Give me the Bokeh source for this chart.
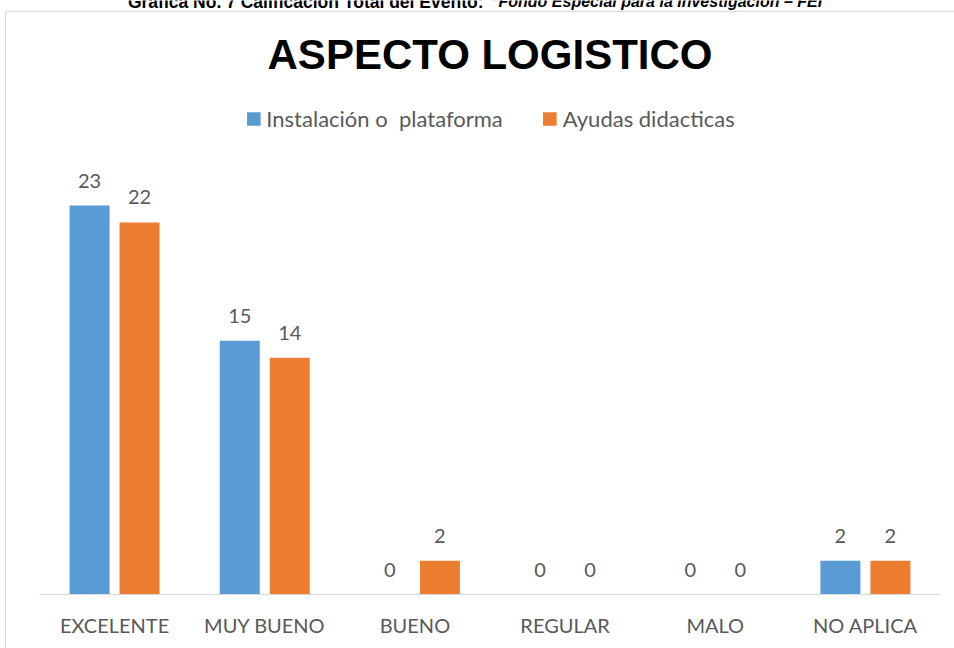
from bokeh.plotting import figure
from bokeh.models import (ColumnDataSource, FactorRange, Range1d, Legend, LegendItem,
                          InlineStyleSheet)
from bokeh.transform import dodge
from bokeh.core.properties import value
from bokeh.embed import file_html
from bokeh.resources import INLINE

categories = ["EXCELENTE", "MUY BUENO", "BUENO", "REGULAR", "MALO", "NO APLICA"]
series_names = ["Instalación o  plataforma", "Ayudas didacticas"]
instalacion = [23, 15, 0, 0, 0, 2]
ayudas = [22, 14, 2, 0, 0, 2]
title_text = "ASPECTO LOGISTICO"
caption_a = "Grafica No. 7 Calificación Total del Evento:"
caption_b = "\u201cFondo Especial para la Investigación \u2013 FEI"

BLUE = "#5B9BD5"
ORANGE = "#ED7D31"
GREY_TXT = "#595959"
LABEL_FONT = "Lato"
HEAD_FONT = "Liberation Sans"

W, H = 954, 648
LEFT, RIGHT, BOTTOM = 39, 14, 54
PX_PER_UNIT = 16.913
y_end = (H - BOTTOM) / PX_PER_UNIT

src = ColumnDataSource(dict(
    cat=categories,
    a=instalacion,
    b=ayudas,
    a_lbl=[str(v) for v in instalacion],
    b_lbl=[str(v) for v in ayudas],
))

p = figure(width=W, height=H, x_range=FactorRange(*categories, range_padding=0),
           y_range=Range1d(0, y_end), output_backend="svg", toolbar_location=None,
           min_border_left=LEFT, min_border_right=RIGHT, min_border_top=0,
           min_border_bottom=BOTTOM)
p.title = None
p.outline_line_color = None
p.grid.visible = False
p.yaxis.visible = False
p.background_fill_color = "white"
p.border_fill_color = "white"

ra = p.vbar(x=dodge("cat", -0.1665, range=p.x_range), top="a", width=0.2665,
            source=src, color=BLUE, line_color=None)
rb = p.vbar(x=dodge("cat", 0.1665, range=p.x_range), top="b", width=0.2665,
            source=src, color=ORANGE, line_color=None)

for col, off in (("a", -0.1665), ("b", 0.1665)):
    p.text(x=dodge("cat", off, range=p.x_range), y=col, text=col + "_lbl", source=src,
           text_align="center", text_baseline="alphabetic", y_offset=-25,
           text_font=value(LABEL_FONT), text_font_size="20px", text_color=GREY_TXT)

xa = p.xaxis[0]
xa.axis_line_color = "#D9D9D9"
xa.axis_line_width = 1
xa.major_tick_line_color = None
xa.minor_tick_line_color = None
xa.major_label_text_font = LABEL_FONT
xa.major_label_text_font_size = "20px"
xa.major_label_text_color = GREY_TXT
xa.major_label_standoff = 12

legend = Legend(items=[LegendItem(label=series_names[0], renderers=[ra]),
                       LegendItem(label=series_names[1], renderers=[rb])],
                orientation="horizontal", location="top",
                glyph_width=17, glyph_height=17, label_standoff=5, spacing=38,
                padding=0, margin=105, border_line_color=None,
                background_fill_alpha=0, label_text_font=LABEL_FONT,
                label_text_font_size="22px", label_text_color=GREY_TXT)
p.add_layout(legend, "center")

# title and caption as text placed from the top edge of the frame
p.text(x=[len(categories) / 2], y=[y_end], text=[title_text], text_align="center",
       text_baseline="alphabetic", y_offset=54, text_font=value(HEAD_FONT),
       text_font_style="bold", text_font_size="42px", text_color="black")
p.text(x=[0], y=[y_end], text=[caption_a], text_align="right",
       text_baseline="alphabetic", x_offset=444, y_offset=1, text_font=value(HEAD_FONT),
       text_font_style="bold", text_font_size="17.5px", text_color="black")
p.text(x=[0], y=[y_end], text=[caption_b], text_align="left",
       text_baseline="alphabetic", x_offset=451, y_offset=1, text_font=value(HEAD_FONT),
       text_font_style="bold italic", text_font_size="16px", text_color="black")

p.stylesheets = [InlineStyleSheet(css="""
:host { position: relative; }
:host::after {
  content: ""; position: absolute; left: 5px; top: 11px;
  width: calc(100% - 5px); height: calc(100% - 11px);
  border-left: 1px solid #D9D9D9; border-top: 1px solid #D9D9D9;
  box-sizing: border-box; pointer-events: none; z-index: 10;
}
""")]

open("out.html", "w").write(file_html(p, INLINE))
